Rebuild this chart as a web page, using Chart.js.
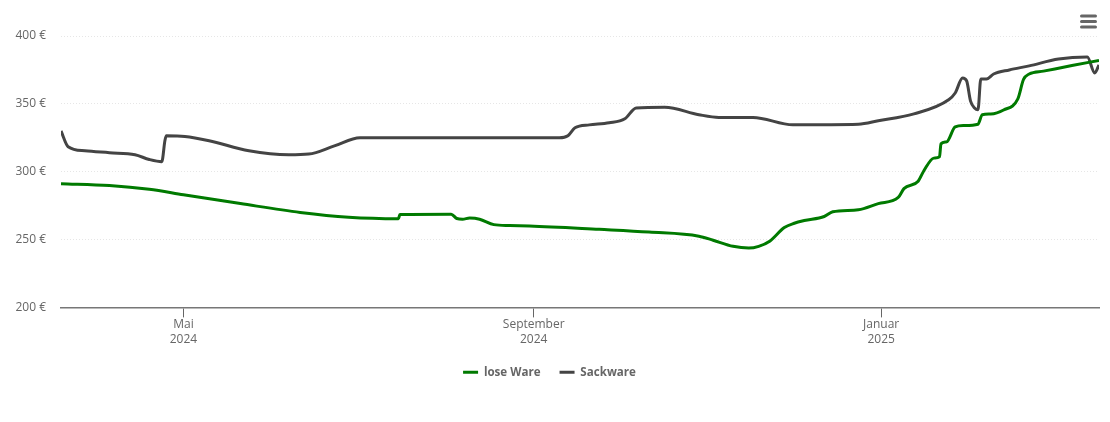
<!DOCTYPE html>
<html>
<head>
<meta charset="utf-8">
<script src="https://cdn.jsdelivr.net/npm/chart.js@4"></script>
<style>
  html, body { margin: 0; padding: 0; background: #fff; }
  #wrap { position: relative; width: 1110px; height: 422px; }
</style>
</head>
<body>
<div id="wrap"><canvas id="priceChart"></canvas></div>
<script>
// x values are days since 19 March 2024
var tickDays = [43, 166, 288];
var tickLabels = [['Mai', '2024'], ['September', '2024'], ['Januar', '2025']];
var yTicks = [200, 250, 300, 350, 400];

var loseDays = [0, 17, 31, 43, 63, 84, 101, 118.5, 119, 137, 139, 141, 143.5, 147, 152, 157.5, 164.5, 189, 206.5, 224, 229, 236, 241.5, 245, 249, 254, 257.5, 261, 268, 271, 280, 287, 294, 296, 301, 303, 306.5, 308.5, 309, 311, 314, 317, 322, 323.5, 326.5, 331, 336, 338, 340, 345, 355, 364.5];
var loseValues = [291.2, 289.8, 287, 283, 276.5, 270, 266.5, 265.4, 268.5, 268.7, 265.5, 265, 265.8, 265, 261, 260.3, 260, 257.5, 255.5, 252.5, 249.5, 245, 243.7, 245, 249, 258.8, 262, 264, 267, 270.5, 272, 276.5, 281, 287.5, 293, 300.7, 310, 311, 320.5, 322, 333, 334, 335, 342, 342.5, 345.5, 353.7, 368, 372, 374.1, 378.2, 382];

var sackDays = [0, 2.5, 8.4, 17, 26, 31, 35.4, 36.5, 37, 43.5, 52, 66, 80, 87, 96, 105, 119, 175, 178, 180.5, 185.5, 192.5, 198, 202, 212, 224, 231, 243, 257, 280, 287, 299.5, 311.7, 314, 316.6, 318, 319.4, 320.8, 322, 323, 325, 327.5, 333, 340, 350.3, 360.4, 363, 364.5];
var sackValues = [330, 318.4, 315.4, 314, 312.5, 309, 307.4, 323, 326.5, 326, 322.8, 315.4, 312.5, 313, 319, 325, 325, 325, 326.5, 332.4, 334.5, 336, 339, 347, 347.5, 342, 340, 340, 334.6, 335, 337.5, 342.6, 353, 358, 369, 367, 352, 347, 345.6, 368.4, 368.4, 372, 375, 378, 383, 384.5, 372.8, 378.7];

function toPoints(days, values) {
  return days.map(function (d, i) { return { x: d, y: values[i] }; });
}

// hamburger menu in the top right corner
var menuIcon = {
  id: 'menuIcon',
  afterDraw: function (chart) {
    var c = chart.ctx;
    c.save();
    c.strokeStyle = '#666';
    c.lineWidth = 3;
    c.lineCap = 'round';
    [16, 21.5, 27].forEach(function (y) {
      c.beginPath();
      c.moveTo(1081.5, y);
      c.lineTo(1095.5, y);
      c.stroke();
    });
    c.restore();
  }
};

new Chart(document.getElementById('priceChart'), {
  type: 'line',
  plugins: [menuIcon],
  data: {
    datasets: [{
      label: 'lose Ware',
      data: toPoints(loseDays, loseValues),
      borderColor: '#007a00',
      backgroundColor: '#007a00',
      borderWidth: 3,
      pointRadius: 0,
      pointStyle: 'line',
      cubicInterpolationMode: 'monotone'
    }, {
      label: 'Sackware',
      data: toPoints(sackDays, sackValues),
      borderColor: '#444444',
      backgroundColor: '#444444',
      borderWidth: 3,
      pointRadius: 0,
      pointStyle: 'line',
      cubicInterpolationMode: 'monotone'
    }]
  },
  options: {
    responsive: true,
    maintainAspectRatio: false,
    animation: false,
    layout: { padding: { top: 36, right: 11, bottom: 34, left: 0 } },
    plugins: {
      tooltip: { enabled: false },
      legend: {
        position: 'bottom',
        labels: {
          usePointStyle: true,
          pointStyleWidth: 15,
          boxHeight: 8,
          padding: 19,
          color: '#666',
          font: { family: 'Open Sans', size: 11.6, weight: 'bold' }
        }
      }
    },
    scales: {
      x: {
        type: 'linear',
        min: 0,
        max: 364.5,
        afterBuildTicks: function (axis) {
          axis.ticks = tickDays.map(function (d) { return { value: d }; });
        },
        grid: { drawOnChartArea: false, drawTicks: true, tickLength: 10, tickColor: '#666', tickWidth: 1 },
        border: { color: '#777', width: 1.5 },
        ticks: {
          autoSkip: false,
          maxRotation: 0,
          padding: 0,
          color: '#666',
          font: { family: 'Open Sans', size: 12, lineHeight: 1.25 },
          callback: function (value) {
            return tickLabels[tickDays.indexOf(value)];
          }
        }
      },
      y: {
        min: 200,
        max: 400,
        afterBuildTicks: function (axis) {
          axis.ticks = yTicks.map(function (v) { return { value: v }; });
        },
        afterFit: function (axis) { axis.width = 61; },
        grid: { color: '#e6e6e6', drawTicks: false, lineWidth: 1 },
        border: { display: false, dash: [1, 2] },
        ticks: {
          padding: 15,
          color: '#666',
          font: { family: 'Open Sans', size: 12 },
          callback: function (value) { return value + ' €'; }
        }
      }
    }
  }
});
</script>
</body>
</html>
